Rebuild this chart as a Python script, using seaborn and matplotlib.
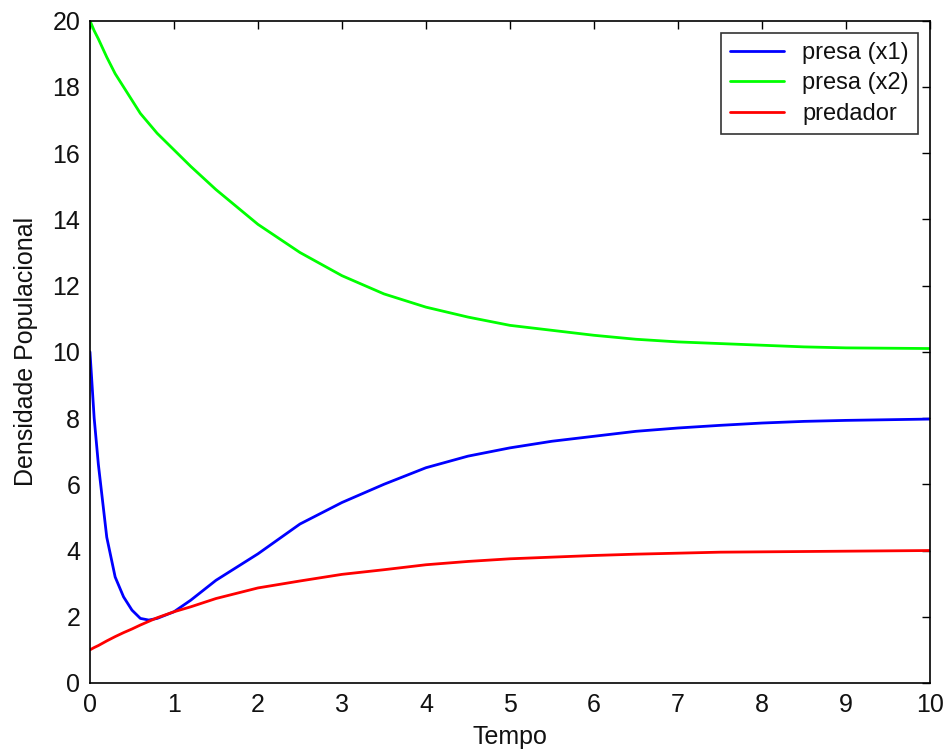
import matplotlib
matplotlib.use("Agg")
import matplotlib.pyplot as plt
import seaborn as sns
import pandas as pd

tempo = [0, 0.05, 0.1, 0.2, 0.3, 0.4, 0.5, 0.6, 0.7, 0.8, 1.0, 1.2, 1.5, 2, 2.5, 3,
         3.5, 4, 4.5, 5, 5.5, 6, 6.5, 7, 7.5, 8, 8.5, 9, 9.5, 10]
presa_x1 = [10.0, 8.0, 6.6, 4.4, 3.2, 2.6, 2.2, 1.95, 1.9, 1.95, 2.15, 2.5, 3.1, 3.9, 4.8, 5.45,
            6.0, 6.5, 6.85, 7.1, 7.3, 7.45, 7.6, 7.7, 7.78, 7.85, 7.9, 7.93, 7.95, 7.97]
presa_x2 = [20.0, 19.7, 19.45, 18.9, 18.4, 18.0, 17.6, 17.2, 16.9, 16.6, 16.1, 15.6, 14.9, 13.85, 13.0, 12.3,
            11.75, 11.35, 11.05, 10.8, 10.65, 10.5, 10.38, 10.3, 10.25, 10.2, 10.15, 10.12, 10.11, 10.1]
predador = [1.0, 1.07, 1.13, 1.27, 1.4, 1.52, 1.63, 1.75, 1.86, 1.97, 2.15, 2.3, 2.55, 2.87, 3.08, 3.28,
            3.42, 3.57, 3.67, 3.75, 3.8, 3.85, 3.89, 3.92, 3.95, 3.96, 3.97, 3.98, 3.99, 4.0]
series_names = ["presa (x1)", "presa (x2)", "predador"]
colors = ["#0000ff", "#00ff00", "#ff0000"]
x_ticks = list(range(0, 11))
y_ticks = list(range(0, 21, 2))

frames = []
for name, vals in zip(series_names, [presa_x1, presa_x2, predador]):
    frames.append(pd.DataFrame({"Tempo": tempo, "valor": vals, "serie": name}))
df = pd.concat(frames, ignore_index=True)

sns.set_style("white")
plt.rcParams["font.family"] = ["Liberation Sans", "DejaVu Sans"]
plt.rcParams["text.color"] = "black"
plt.rcParams["axes.labelcolor"] = "black"

fig = plt.figure(figsize=(9.46, 7.56), dpi=100)
ax = fig.add_axes([0.0951, 0.0966, 0.8879, 0.876])
sns.lineplot(data=df, x="Tempo", y="valor", hue="serie", hue_order=series_names,
             palette=colors, linewidth=2, ax=ax, estimator=None, sort=False)

ax.set_xlim(0, 10)
ax.set_ylim(0, 20)
ax.set_xticks(x_ticks)
ax.set_yticks(y_ticks)
ax.tick_params(direction="in", length=6, width=1, top=True, right=True,
               labelsize=18, colors="black", labelcolor="#111111", pad=7)
for s in ax.spines.values():
    s.set_visible(True)
    s.set_color("black")
    s.set_linewidth(1.2)
ax.set_xlabel("Tempo", fontsize=18, labelpad=6, color="#111111")
ax.set_ylabel("Densidade Populacional", fontsize=18, labelpad=10, color="#111111")

leg = ax.legend(loc="upper right", fontsize=17, frameon=True, fancybox=False,
                edgecolor="black", handlelength=2.3, borderpad=0.4,
                labelspacing=0.36, handletextpad=0.75, borderaxespad=0.5)
leg.get_frame().set_linewidth(1.2)
for t in leg.get_texts():
    t.set_color("#111111")

fig.savefig("out.png", dpi=100)
